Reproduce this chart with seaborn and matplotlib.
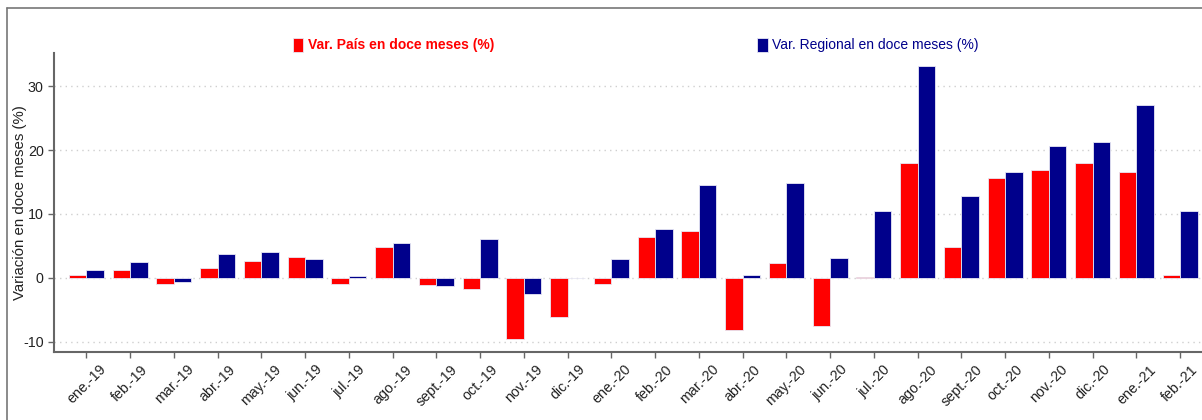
import pandas as pd
import matplotlib.pyplot as plt
import seaborn as sns
from matplotlib.lines import Line2D

# ----------------------------------------------------------------------------------------------
# Data
# ----------------------------------------------------------------------------------------------
meses = ["ene.-19", "feb.-19", "mar.-19", "abr.-19", "may.-19", "jun.-19", "jul.-19",
         "ago.-19", "sept.-19", "oct.-19", "nov.-19", "dic.-19", "ene.-20", "feb.-20",
         "mar.-20", "abr.-20", "may.-20", "jun.-20", "jul.-20", "ago.-20", "sept.-20",
         "oct.-20", "nov.-20", "dic.-20", "ene.-21", "feb.-21"]
var_pais = [0.4, 1.2, -0.9, 1.6, 2.6, 3.3, -1.0, 4.8, -1.1, -1.7, -9.6, -6.1, -0.9,
            6.4, 7.4, -8.2, 2.3, -7.6, 0.1, 18.0, 4.8, 15.6, 16.8, 17.9, 16.6, 0.5]
var_regional = [1.2, 2.5, -0.6, 3.8, 4.0, 2.9, 0.3, 5.5, -1.2, 6.1, -2.6, -0.1, 3.0,
                7.6, 14.5, 0.4, 14.8, 3.1, 10.5, 33.1, 12.8, 16.5, 20.7, 21.3, 27.0, 10.4]
serie_pais = "Var. País en doce meses (%)"
serie_regional = "Var. Regional en doce meses (%)"

df = pd.DataFrame({
    "mes": meses * 2,
    "valor": var_pais + var_regional,
    "serie": [serie_pais] * len(meses) + [serie_regional] * len(meses),
})

# ----------------------------------------------------------------------------------------------
# Plot
# ----------------------------------------------------------------------------------------------
sns.set_style("white")
plt.rcParams["font.family"] = ["Liberation Sans", "DejaVu Sans"]
plt.rcParams["axes.unicode_minus"] = False

fig = plt.figure(figsize=(12.02, 4.2), dpi=100)
ax = fig.add_axes([0.045, 0.162, 0.955, 0.712])

sns.barplot(data=df, x="mes", y="valor", hue="serie", ax=ax,
            palette={serie_pais: "#ff0000", serie_regional: "#00008b"},
            saturation=1, width=0.8, edgecolor="#e8e8f4", linewidth=0.6)

ax.set_ylim(-11.6, 35.2)
ax.set_xlim(-0.74, 25.5)
ax.set_yticks([-10, 0, 10, 20, 30])
ax.yaxis.grid(True, linestyle=(0, (1, 3)), color="#cfcfcf", linewidth=1.0)
ax.set_axisbelow(True)
ax.set_xlabel("")
ax.set_ylabel("Variación en doce meses (%)", fontsize=10.8, color="#222222")
ax.yaxis.set_label_coords(-0.0235, 0.5)

for side in ["top", "right"]:
    ax.spines[side].set_visible(False)
for side in ["left", "bottom"]:
    ax.spines[side].set_color("#666666")
    ax.spines[side].set_linewidth(1.5)

ax.tick_params(axis="both", direction="out", length=4, width=1, color="#666666",
               labelsize=10.3, labelcolor="#222222", left=True, bottom=True)
plt.setp(ax.get_xticklabels(), rotation=45, ha="center", va="top")

# legend on top, two separate entries
handles, labels = ax.get_legend_handles_labels()
leg = ax.legend(handles, labels, ncol=2, frameon=False, loc="center left",
                bbox_to_anchor=(0.238, 0.893), bbox_transform=fig.transFigure,
                fontsize=10, handlelength=0.75, handleheight=1.2, handletextpad=0.35,
                columnspacing=18.9, borderpad=0)
txt_pais, txt_regional = leg.get_texts()
txt_pais.set_color("#ff0000")
txt_pais.set_fontweight("bold")
txt_regional.set_color("#00008b")

# outer grey frame (left and top edges visible)
fig.add_artist(Line2D([7 / 1202, 7 / 1202], [0, 1 - 8 / 420], transform=fig.transFigure,
                      color="#777777", linewidth=1.2))
fig.add_artist(Line2D([7 / 1202, 1], [1 - 8 / 420, 1 - 8 / 420], transform=fig.transFigure,
                      color="#777777", linewidth=1.2))

plt.savefig("out.png", dpi=100)
plt.close()
